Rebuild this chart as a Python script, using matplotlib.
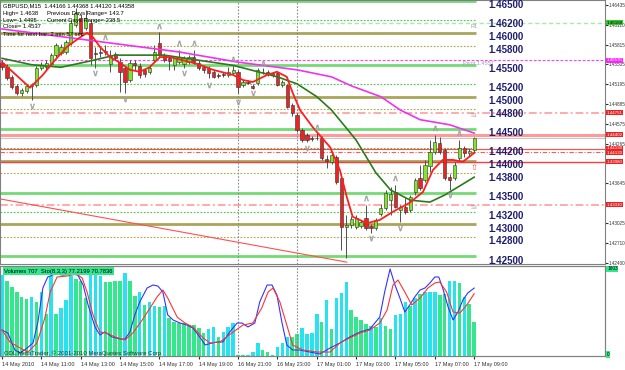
import matplotlib
matplotlib.use("Agg")
import matplotlib.pyplot as plt
from matplotlib.patches import Rectangle
from matplotlib.transforms import blended_transform_factory as btf

plt.rcParams['font.family'] = ['Liberation Sans', 'DejaVu Sans']

# ---------------- data ----------------
opens = [1.4553, 1.4546, 1.4531, 1.4517, 1.4506, 1.4509, 1.4517, 1.4518, 1.4545, 1.4546,
         1.4551, 1.4565, 1.4568, 1.4570, 1.4584, 1.4612, 1.4623, 1.4608, 1.4615, 1.4568,
         1.4570, 1.4572, 1.4551, 1.4567, 1.4554, 1.4545, 1.4526, 1.4553, 1.4548, 1.4542,
         1.4539, 1.4557, 1.4584, 1.4565, 1.4561, 1.4550, 1.4554, 1.4551, 1.4554, 1.4562,
         1.4553, 1.4546, 1.4545, 1.4539, 1.4534, 1.4536, 1.4534, 1.4537, 1.4539, 1.4518,
         1.4523, 1.4517, 1.4521, 1.4539, 1.4539, 1.4537, 1.4537, 1.4518, 1.4518, 1.4487,
         1.4471, 1.4448, 1.4440, 1.4436, 1.4435, 1.4435, 1.4402, 1.4398, 1.4406, 1.4373,
         1.4296, 1.4299, 1.4296, 1.4298, 1.4310, 1.4298, 1.4295, 1.4316, 1.4326, 1.4338,
         1.4351, 1.4323, 1.4327, 1.4323, 1.4351, 1.4373, 1.4370, 1.4392, 1.4413, 1.4428,
         1.4417, 1.4374, 1.4373, 1.4404, 1.4420, 1.4412, 1.44166]
highs = [1.4557, 1.4551, 1.4534, 1.4520, 1.4514, 1.4520, 1.4521, 1.4548, 1.4554, 1.4557,
         1.4568, 1.4584, 1.4582, 1.4589, 1.4620, 1.4639, 1.4629, 1.4636, 1.4620, 1.4578,
         1.4578, 1.4581, 1.4573, 1.4570, 1.4561, 1.4548, 1.4557, 1.4557, 1.4553, 1.4545,
         1.4550, 1.4581, 1.4601, 1.4568, 1.4565, 1.4562, 1.4573, 1.4564, 1.4565, 1.4573,
         1.4557, 1.4550, 1.4548, 1.4542, 1.4537, 1.4539, 1.4546, 1.4548, 1.4542, 1.4526,
         1.4526, 1.4520, 1.4545, 1.4545, 1.4542, 1.4539, 1.4539, 1.4526, 1.4520, 1.4490,
         1.4475, 1.4451, 1.4443, 1.4439, 1.4444, 1.4439, 1.4409, 1.4413, 1.4409, 1.4376,
         1.4315, 1.4313, 1.4315, 1.4307, 1.4331, 1.4301, 1.4310, 1.4332, 1.4354, 1.4359,
         1.4362, 1.4331, 1.4341, 1.4346, 1.4373, 1.4393, 1.4401, 1.4432, 1.4440, 1.4437,
         1.4420, 1.4379, 1.4398, 1.4432, 1.4423, 1.4420, 1.44368]
lows = [1.4542, 1.4526, 1.4512, 1.4503, 1.4501, 1.4506, 1.4495, 1.4515, 1.4542, 1.4542,
        1.4548, 1.4562, 1.4565, 1.4567, 1.4581, 1.4609, 1.4597, 1.4604, 1.4550, 1.4545,
        1.4562, 1.4565, 1.4539, 1.4557, 1.4507, 1.4506, 1.4523, 1.4542, 1.4529, 1.4531,
        1.4536, 1.4554, 1.4561, 1.4554, 1.4542, 1.4542, 1.4551, 1.4545, 1.4551, 1.4551,
        1.4542, 1.4537, 1.4529, 1.4529, 1.4529, 1.4531, 1.4531, 1.4534, 1.4506, 1.4515,
        1.4520, 1.4512, 1.4518, 1.4536, 1.4532, 1.4531, 1.4517, 1.4515, 1.4482, 1.4470,
        1.4445, 1.4429, 1.4429, 1.4431, 1.4432, 1.4401, 1.4388, 1.4395, 1.4363, 1.4260,
        1.4248, 1.4295, 1.4293, 1.4295, 1.4291, 1.4287, 1.4291, 1.4313, 1.4323, 1.4315,
        1.4326, 1.4304, 1.4316, 1.4320, 1.4346, 1.4354, 1.4367, 1.4382, 1.4410, 1.4410,
        1.4370, 1.4354, 1.4370, 1.4401, 1.4406, 1.4407, 1.44120]
closes = [1.4546, 1.4529, 1.4515, 1.4506, 1.4510, 1.4517, 1.4518, 1.4545, 1.4550, 1.4553,
          1.4565, 1.4581, 1.4578, 1.4586, 1.4615, 1.4631, 1.4600, 1.4623, 1.4561, 1.4567,
          1.4568, 1.4570, 1.4564, 1.4561, 1.4539, 1.4523, 1.4553, 1.4550, 1.4534, 1.4536,
          1.4545, 1.4570, 1.4565, 1.4557, 1.4556, 1.4561, 1.4562, 1.4561, 1.4562, 1.4554,
          1.4545, 1.4542, 1.4537, 1.4531, 1.4532, 1.4534, 1.4539, 1.4542, 1.4515, 1.4523,
          1.4521, 1.4514, 1.4542, 1.4538, 1.4536, 1.4534, 1.4518, 1.4523, 1.4484, 1.4475,
          1.4448, 1.4432, 1.4432, 1.4434, 1.4435, 1.4404, 1.4399, 1.4409, 1.4367, 1.4296,
          1.4299, 1.4309, 1.4310, 1.4304, 1.4295, 1.4295, 1.4307, 1.4326, 1.4349, 1.4348,
          1.4327, 1.4327, 1.4320, 1.4343, 1.4370, 1.4357, 1.4393, 1.4413, 1.4429, 1.4413,
          1.4373, 1.4370, 1.4393, 1.4420, 1.4412, 1.4415, 1.44358]

volumes = [1677, 1553, 1420, 1330, 1222, 1180, 1228, 1124, 1331, 870,
           1663, 870, 994, 1160, 1663, 1594, 1553, 1200, 1700, 1677,
           1663, 1532, 1540, 1553, 1553, 1718, 1553, 1249, 1325, 1056,
           1124, 1042, 1021, 1042, 787, 711, 683, 683, 642, 642,
           587, 476, 559, 607, 400, 497, 607, 676, 20, 15,
           30, 80, 270, 125, 90, 20, 190, 270, 400, 400,
           450, 587, 455, 476, 870, 700, 1160, 559, 1208, 1311,
           1539, 952, 814, 745, 662, 628, 607, 793, 628, 559,
           849, 863, 1124, 1042, 1194, 1277, 1331, 1331, 1331, 1263,
           1277, 1560, 1560, 1505, 1228, 1070, 707]
# u = cyan, d = green
vol_dir = ['u', 'd', 'd', 'd', 'd', 'd', 'u', 'd', 'u', 'd',
           'u', 'd', 'u', 'u', 'u', 'd', 'd', 'd', 'u', 'u',
           'u', 'd', 'd', 'd', 'd', 'u', 'd', 'd', 'u', 'd',
           'u', 'u', 'd', 'u', 'd', 'd', 'd', 'd', 'd', 'd',
           'd', 'd', 'u', 'u', 'd', 'u', 'u', 'u', 'd', 'd',
           'u', 'u', 'u', 'd', 'd', 'd', 'u', 'u', 'u', 'd',
           'd', 'u', 'u', 'u', 'u', 'd', 'u', 'd', 'u', 'u',
           'u', 'd', 'd', 'd', 'd', 'u', 'd', 'u', 'd', 'd',
           'u', 'u', 'u', 'd', 'u', 'd', 'u', 'u', 'u', 'd',
           'd', 'u', 'u', 'd', 'u', 'd', 'd']

# moving averages (bar position, price)
ma_fast_x = [0, 5.7, 8.3, 10.4, 13.2, 15.9, 17.3, 18.5, 19.9, 22, 24, 26, 28, 30, 32.1, 34.1,
             36.8, 40.2, 42.9, 47, 49, 51, 53.9, 55.9, 57.9, 59.1, 60.6, 63.2, 66.7, 68.7,
             70.1, 71.3, 74.2, 76.8, 79.5, 82.9, 85.6, 87.6, 89.6, 91.7, 93.7, 96]
ma_fast_y = [1.4554, 1.4514, 1.4534, 1.4554, 1.4578, 1.4593, 1.4600, 1.4593, 1.4578, 1.4562,
             1.4553, 1.4542, 1.4539, 1.4546, 1.4562, 1.4562, 1.4557, 1.4550, 1.4542, 1.4534,
             1.4526, 1.4523, 1.4534, 1.4539, 1.4531, 1.4506, 1.4479, 1.4452, 1.4421, 1.4385,
             1.4343, 1.4312, 1.4302, 1.4307, 1.4320, 1.4334, 1.4351, 1.4385, 1.4401, 1.4401,
             1.4398, 1.4412]
ma_mid_x = [0, 6, 12, 18, 23, 33, 40, 47, 52, 56, 60, 64, 67, 70, 72, 76, 79, 83, 87, 90, 96]
ma_mid_y = [1.4560, 1.4550, 1.4546, 1.4556, 1.4565, 1.4565, 1.4557, 1.4549, 1.4539, 1.4531,
            1.4520, 1.4500, 1.4479, 1.4451, 1.4432, 1.4381, 1.4354, 1.4338, 1.4335, 1.4346,
            1.4374]
ma_slow_x = [0, 6, 20, 36, 48, 60, 67, 71, 77, 81, 85, 91, 96]
ma_slow_y = [1.4606, 1.4600, 1.4586, 1.4570, 1.4554, 1.4542, 1.4531, 1.4517, 1.4500, 1.4479,
             1.4464, 1.4456, 1.4443]

# fractals (bar, price)
frac_up_bars = [21, 32, 36, 39, 47, 53, 64, 74, 80, 88, 93]
frac_up_price = [1.4593, 1.4611, 1.4584, 1.4584, 1.4559, 1.4553, 1.4453, 1.4341, 1.4373,
                 1.4451, 1.4443]
frac_dn_bars = [6, 19, 25, 37, 42, 48, 51, 62, 75, 81, 91]
frac_dn_price = [1.4485, 1.4537, 1.4496, 1.4537, 1.4518, 1.4491, 1.4505, 1.4420, 1.4279,
                 1.4295, 1.4346]

# stochastic (bar position, value)
sto_main_x = [0, 1.2, 2.6, 3.7, 5.1, 6.3, 7.3, 8.3, 9.3, 10.8, 12.4, 14.2, 15.4, 16.5, 17.5,
              18.9, 19.9, 20.9, 22.4, 24, 25, 26, 27, 28, 29.5, 30.7, 31.7, 32.7, 33.7, 34.8,
              36.2, 37.6, 38.8, 40.2, 41.3, 42.7, 43.7, 44.9, 46.3, 47.8, 48.8, 50, 51.4, 52.4,
              53.9, 54.9, 55.9, 56.9, 57.9, 59.1, 60.6, 62.6, 64.6, 66.7, 68.7, 70.7, 72.8,
              74.8, 76.8, 77.8, 78.9, 79.9, 80.9, 81.9, 82.9, 83.9, 85, 86, 87, 88, 88.8, 89.6,
              90.7, 91.7, 92.7, 93.7, 94.7, 96]
sto_main_v = [29.5, 26.1, 6.8, 3.4, 9.1, 14.8, 38.6, 77.3, 89.8, 93.2, 92.0, 93.2, 92.0, 80.7,
              58.0, 33.0, 23.9, 27.3, 21.6, 19.3, 19.3, 27.3, 46.6, 61.4, 77.3, 80.7, 79.5, 72.7,
              46.6, 40.9, 37.5, 35.2, 31.8, 21.6, 12.5, 14.8, 15.9, 15.9, 27.3, 37.5, 37.5, 33.0,
              37.5, 61.4, 80.7, 80.7, 69.3, 38.6, 12.5, 6.8, 6.8, 4.5, 2.3, 9.1, 14.8, 21.6,
              27.3, 30.7, 44.3, 72.7, 98.9, 80.7, 65.9, 50.0, 58.0, 67.0, 75.0, 77.3, 83.0,
              89.8, 89.8, 77.3, 55.7, 40.9, 50.0, 63.6, 71.6, 77.2199]
sto_sig_x = [0, 1.6, 3.7, 5.3, 7.1, 8.7, 9.8, 11.2, 13.2, 15.2, 16.3, 17.3, 18.5, 19.9, 21.3,
             23, 25, 26.6, 28.5, 30.1, 31.5, 32.7, 33.7, 35.6, 37.2, 38.8, 40.9, 42.3, 44.3,
             47, 49, 51, 52.8, 54.1, 55.1, 56.5, 57.9, 59.1, 61.2, 64, 66.7, 68.7, 70.7, 72.8,
             74.8, 76.8, 78.3, 79.5, 80.5, 81.9, 83.3, 85, 86.6, 88, 89, 90.4, 91.7, 93.1, 94.5,
             96]
sto_sig_v = [29.5, 15.9, 9.1, 4.5, 14.8, 43.2, 72.7, 89.8, 90.9, 93.2, 88.6, 72.7, 46.6, 27.3,
             26.1, 21.6, 18.2, 26.1, 40.9, 54.5, 67.0, 75.0, 65.9, 44.3, 37.5, 33.0, 20.5, 14.8,
             15.9, 27.3, 35.2, 37.5, 54.5, 72.7, 77.3, 61.4, 35.2, 12.5, 6.8, 4.5, 4.5, 14.8,
             20.5, 26.1, 29.5, 37.5, 52.3, 80.7, 86.4, 72.7, 58.0, 65.9, 77.3, 83.0, 84.1, 72.7,
             50.0, 48.9, 58.0, 70.7836]

round_levels = [1.465, 1.462, 1.460, 1.458, 1.455, 1.452, 1.450, 1.448, 1.445, 1.442,
                1.440, 1.438, 1.435, 1.432, 1.430, 1.428, 1.425]
pivot_names = ['R1', 'Pivot 1.4557', 'S1', 'S3']
pivot_levels = [1.4615, 1.4557, 1.44751, 1.4331]
sr_levels = [1.44402, 1.4418, 1.4413, 1.4398]
trend_bars = [-0.4, 70.1]
trend_prices = [1.4340, 1.4241]
separator_bars = [48, 60]
price_ticks = [1.46435, 1.46120, 1.45815, 1.45505, 1.45195, 1.44885, 1.44575, 1.44265,
               1.43955, 1.43645, 1.43335, 1.43025, 1.42710, 1.42400]
hidden_ticks = [1.43955, 1.43335]   # covered by the level boxes in the picture
time_tick_bars = [0, 8, 16, 24, 32, 40, 48, 56, 64, 72, 80, 88, 96]
time_labels = ['14 May 2010', '14 May 11:00', '14 May 13:00', '14 May 15:00', '14 May 17:00',
               '14 May 19:00', '16 May 21:00', '16 May 23:00', '17 May 01:00', '17 May 03:00',
               '17 May 05:00', '17 May 07:00', '17 May 09:00']

# ---------------- figure ----------------
W, H = 625, 370
fig = plt.figure(figsize=(W / 100, H / 100), dpi=100)
fig.patch.set_facecolor('white')


def box(x0, y0, x1, y1):
    return [x0 / W, 1 - y1 / H, (x1 - x0) / W, (y1 - y0) / H]


ax = fig.add_axes(box(0, 0, 605, 264))
axv = fig.add_axes(box(0, 266, 605, 356))
axs = axv.twinx()

XL = (-0.41, 122.6)
ax.set_xlim(*XL)
ax.set_ylim(1.42381, 1.46513)
axv.set_xlim(*XL)
axv.set_ylim(0, 1865)
axs.set_ylim(0, 102.3)

for a in (ax, axv, axs):
    for s in a.spines.values():
        s.set_color('#808080')
        s.set_linewidth(0.8)

line_end = 96.3
# round levels
for lv in round_levels:
    k = int(round(lv * 100000)) % 1000
    if k == 0:
        ax.hlines(lv, XL[0], line_end, color='#aaa55a', lw=2.0, zorder=1)
    elif k == 500:
        ax.hlines(lv, XL[0], line_end, color='#74da74', lw=2.0, zorder=1)
    elif k == 200:
        ax.hlines(lv, XL[0], line_end, color='#44c844', lw=0.8, ls=(0, (1.5, 1.5)), zorder=1)
    else:
        ax.hlines(lv, XL[0], line_end, color='#b0a44a', lw=0.8, ls=(0, (1.5, 1.5)), zorder=1)
    ax.text(98.8, lv + 0.00012, f"{lv:.5f}", va='top', ha='left', fontsize=7,
            fontweight='bold', color='#1e1e70', clip_on=True, zorder=3)

# pivot lines
piv_styles = [dict(color='#a8e8a8', lw=1.0, ls=(0, (3, 2))),
              dict(color='#ff40ff', lw=0.8, ls=(0, (2.5, 1.5))),
              dict(color='#ffaaaa', lw=1.4, ls=(0, (4, 1.5, 1, 1.5))),
              dict(color='#ffaaaa', lw=1.4, ls=(0, (4, 1.5, 1, 1.5)))]
piv_text_x = [95.3, 93.7, 95.3, 95.3]
for nm, lv, st, tx in zip(pivot_names, pivot_levels, piv_styles, piv_text_x):
    ax.axhline(lv, zorder=1.5, **st)
    ax.text(tx, lv - 0.00005, nm, fontsize=4, color='#a0a0a0', va='top', ha='left', zorder=3)

# support / resistance lines
sr_styles = [dict(color='#ff9a9a', lw=2.2, ls='-'),
             dict(color='#ff4a4a', lw=0.8, ls='-'),
             dict(color='#ff5a5a', lw=0.8, ls=(0, (4, 1.5, 1, 1.5))),
             dict(color='#ff3a3a', lw=1.0, ls='-')]
for lv, st in zip(sr_levels, sr_styles):
    ax.axhline(lv, zorder=1.6, **st)
ax.axhline(closes[-1], color='#c8c8c8', lw=0.8, zorder=1.4)

# trend line
ax.plot(trend_bars, trend_prices, color='#ff5050', lw=0.8, zorder=2)

# separators
for b in separator_bars:
    ax.axvline(b, color='#8a8a8a', lw=0.8, ls=(0, (1.5, 1.5)), zorder=1.8)
    axv.axvline(b, color='#8a8a8a', lw=0.8, ls=(0, (1.5, 1.5)), zorder=3)

# candles
for i, (o, h, l, c) in enumerate(zip(opens, highs, lows, closes)):
    ax.vlines(i, l, h, color='#505050', lw=0.7, zorder=4)
    lo = min(o, c)
    ht = max(abs(c - o), 0.00002)
    fc = '#7de82a' if c >= o else '#ee2222'
    ax.add_patch(Rectangle((i - 0.33, lo), 0.66, ht, facecolor=fc, edgecolor='#303030',
                           lw=0.4, zorder=5))

# moving averages
ax.plot(ma_slow_x, ma_slow_y, color='#ee33ee', lw=1.2, zorder=6)
ax.plot(ma_mid_x, ma_mid_y, color='#2c7a1c', lw=1.2, zorder=6)
ax.plot(ma_fast_x, ma_fast_y, color='#ff1e1e', lw=1.3, zorder=6)

# fractals
ax.scatter(frac_up_bars, frac_up_price, marker='$\\wedge$', s=14, color='#a0a0a0', zorder=7,
           linewidths=0.3)
ax.scatter(frac_dn_bars, frac_dn_price, marker='$\\vee$', s=14, color='#a0a0a0', zorder=7,
           linewidths=0.3)
ax.text(len(closes) - 1, 1.4388, '\u21e7', color='#ff5050', fontsize=6, ha='center',
        va='center', zorder=7)

# right axis
ax.set_xticks([])
ax.yaxis.tick_right()
ax.set_yticks(price_ticks)
ax.set_yticklabels(['' if p in hidden_ticks else f"{p:.5f}" for p in price_ticks])
ax.tick_params(axis='y', length=2, pad=0.5, labelsize=3.3, colors='#303030')

tb = btf(ax.transAxes, ax.transData)
right_boxes = [(1.4616, '1.46160', '#33cc33', 'black'),
               (1.4557, '1.45570', '#ff22ff', 'white'),
               (1.44751, '1.44751', '#ee2222', 'white'),
               (1.44402, '1.44402', '#ee2222', 'white'),
               (1.4419, '1.44190', '#ee2222', 'white'),
               (1.4412, '1.44130', '#ee2222', 'white'),
               (1.4398, '1.43980', '#ee2222', 'white'),
               (1.4331, '1.43310', '#ee2222', 'white')]
for p, t, bc, tc in right_boxes:
    ax.text(1.0022, p, t, transform=tb, fontsize=3.2, color=tc, va='center', ha='left',
            bbox=dict(boxstyle='square,pad=0.12', fc=bc, ec='none'), zorder=10, clip_on=False)

# volumes and stochastic
vcol = ['#27e3f0' if d == 'u' else '#33e88c' for d in vol_dir]
axv.bar(range(len(volumes)), volumes, width=0.72, color=vcol, zorder=1)
axs.plot(sto_main_x, sto_main_v, color='#3333ff', lw=0.8, zorder=4)
axs.plot(sto_sig_x, sto_sig_v, color='#ff3333', lw=0.8, zorder=4)
axv.set_yticks([])
axs.set_yticks([])
axv.set_xticks(time_tick_bars)
axv.set_xticklabels(time_labels)
for lab in axv.get_xticklabels():
    lab.set_horizontalalignment('left')
axv.tick_params(axis='x', length=2, pad=2.5, labelsize=4, colors='#303030')

tvb = btf(axv.transAxes, axv.transData)
axv.text(1.0035, 1803, '1803', transform=tvb, fontsize=3.4, color='black', va='center',
         ha='left', bbox=dict(boxstyle='square,pad=0.15', fc='#33e88c', ec='none'),
         clip_on=False)
axv.text(1.0035, 30, '0', transform=tvb, fontsize=3.4, color='black', va='center', ha='left',
         bbox=dict(boxstyle='square,pad=0.15', fc='#33e88c', ec='none'), clip_on=False)

# texts
def ftext(x, y, s, **kw):
    fig.text(x / W, 1 - y / H, s, va='center', ha='left', **kw)


ftext(3, 6, 'GBPUSD,M15  1.44166 1.44368 1.44120 1.44358', fontsize=4.2, color='black')
ftext(3, 13.5, 'High= 1.4638', fontsize=4.2, color='black')
ftext(47, 13.5, 'Previous Days Range= 143.7', fontsize=4.2, color='black')
ftext(3, 20.5, 'Low= 1.4495', fontsize=4.2, color='black')
ftext(47, 20.5, 'Current Days Range= 238.5', fontsize=4.2, color='black')
ftext(3, 27, 'Close= 1.4537', fontsize=4.2, color='black')
ftext(3, 34, 'Time for next bar: 2 min 57 sec', fontsize=4.2, color='black')
ftext(4, 271, 'Volumes 707  Sto(8,3,3) 77.2199 70.7836', fontsize=4.2, color='black',
      bbox=dict(boxstyle='square,pad=0.2', fc='#33e88c', ec='none'))
ftext(4, 353, 'ODL MetaTrader, \u00a9 2001-2010 MetaQuotes Software Corp.', fontsize=4.3,
      color='#303030')

fig.savefig('out.png', dpi=100, facecolor='white')
